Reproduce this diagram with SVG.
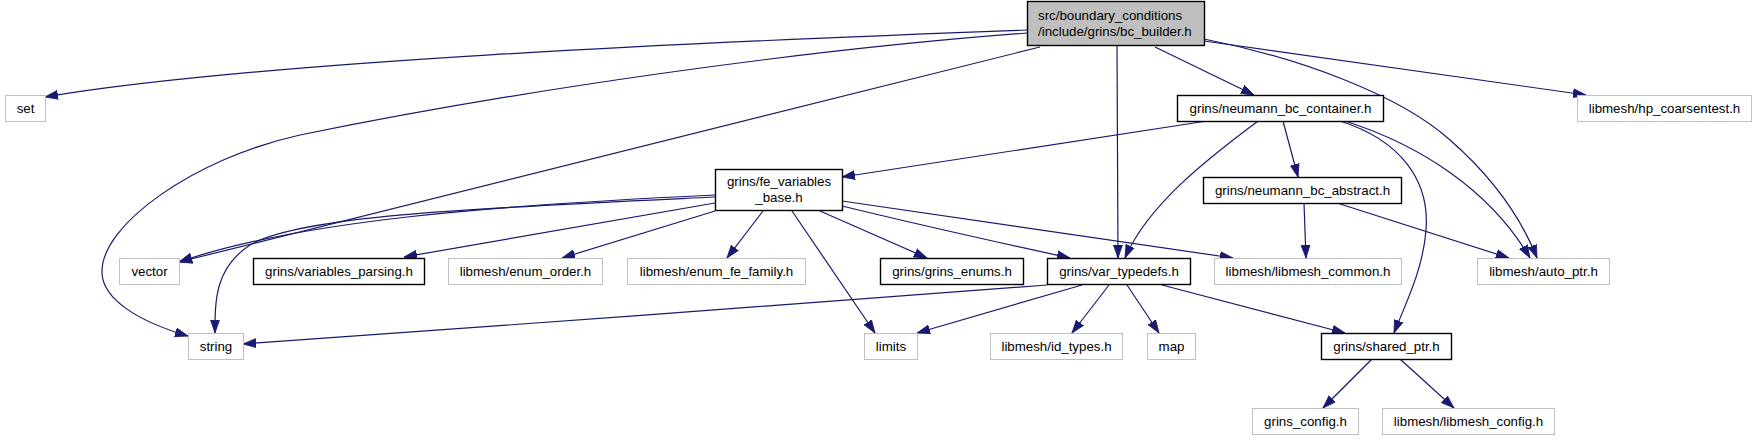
<svg xmlns="http://www.w3.org/2000/svg" width="1756" height="440" viewBox="0 0 1756 440">
<style>
.bg{fill:#ffffff}
.g rect{fill:#ffffff;stroke:#bfbfbf;stroke-width:1}
.d rect{fill:#ffffff;stroke:#000000;stroke-width:1.4}
.r rect{fill:#bfbfbf;stroke:#000000;stroke-width:1.4}
text{font-family:"Liberation Sans",Arial,Helvetica,sans-serif;font-size:13.3px;fill:#000000;text-anchor:middle}
.lt{text-anchor:start}
.e path{fill:none;stroke:#191970;stroke-width:1.2;marker-end:url(#ah)}
</style>
<defs>
<marker id="ah" markerUnits="userSpaceOnUse" markerWidth="14" markerHeight="10" viewBox="0 0 14 10" refX="13" refY="5" orient="auto">
<path d="M0,0.5 L13,5 L0,9.5 Z" fill="#191970" stroke="#191970" stroke-width="0.8"/>
</marker>
</defs>
<rect class="bg" x="0" y="0" width="1756" height="440"/>
<g id="edges" class="e">
<path d="M1027,30 C700,42 250,62 45,97"/>
<path d="M1027,33 C800,50 520,90 300,135 C195,158 100,225 102,273 C103,300 140,322 188,336"/>
<path d="M1040,47 L179,262"/>
<path d="M1117,46 L1118,258"/>
<path d="M1155,47 L1254,95"/>
<path d="M1204,39 C1300,58 1400,95 1450,140 C1490,175 1520,215 1537,258"/>
<path d="M1204,41 L1586,95"/>
<path d="M1207,121 L842,177"/>
<path d="M1258,121 C1220,150 1150,200 1125,258"/>
<path d="M1283,121 L1298,177"/>
<path d="M1340,121 C1400,140 1430,180 1426,230 C1423,270 1405,305 1394,333"/>
<path d="M1345,121 C1420,145 1490,190 1530,258"/>
<path d="M715,195 C500,205 300,220 179,262"/>
<path d="M715,197 C480,208 300,215 250,245 C215,268 215,300 215,333"/>
<path d="M715,203 L404,257"/>
<path d="M715,211 L562,258"/>
<path d="M763,211 L727,258"/>
<path d="M792,211 L875,333"/>
<path d="M820,211 L927,258"/>
<path d="M842,206 C920,225 1010,245 1070,258"/>
<path d="M842,201 L1233,258"/>
<path d="M1304,203 L1306,258"/>
<path d="M1337,203 L1509,258"/>
<path d="M1047,285 C850,300 450,330 243,344"/>
<path d="M1082,285 L917,333"/>
<path d="M1109,285 L1072,333"/>
<path d="M1127,285 L1159,333"/>
<path d="M1162,285 L1345,333"/>
<path d="M1372,359 L1323,408"/>
<path d="M1400,359 L1454,408"/>
</g>
<g id="root" class="r"><rect x="1027.5" y="1.5" width="177" height="44"/><text class="lt" x="1038" y="20">src/boundary_conditions</text><text class="lt" x="1038" y="36">/include/grins/bc_builder.h</text></g>
<g id="set" class="g"><rect x="5.5" y="95.5" width="40" height="26"/><text x="25.5" y="113">set</text></g>
<g id="neumann_bc_container" class="d"><rect x="1177.5" y="95.5" width="206" height="26"/><text x="1280.5" y="113">grins/neumann_bc_container.h</text></g>
<g id="hp_coarsentest" class="g"><rect x="1577.5" y="95.5" width="174" height="26"/><text x="1664.5" y="113">libmesh/hp_coarsentest.h</text></g>
<g id="fe_variables_base" class="d"><rect x="715.5" y="169.5" width="127" height="41"/><text x="779" y="186">grins/fe_variables</text><text x="779" y="202">_base.h</text></g>
<g id="neumann_bc_abstract" class="d"><rect x="1203.5" y="177.5" width="198" height="26"/><text x="1302.5" y="195">grins/neumann_bc_abstract.h</text></g>
<g id="vector" class="g"><rect x="119.5" y="258.5" width="60" height="26"/><text x="149.5" y="276">vector</text></g>
<g id="variables_parsing" class="d"><rect x="253.5" y="258.5" width="171" height="26"/><text x="339" y="276">grins/variables_parsing.h</text></g>
<g id="enum_order" class="g"><rect x="448.5" y="258.5" width="154" height="26"/><text x="525.5" y="276">libmesh/enum_order.h</text></g>
<g id="enum_fe_family" class="g"><rect x="627.5" y="258.5" width="178" height="26"/><text x="716.5" y="276">libmesh/enum_fe_family.h</text></g>
<g id="grins_enums" class="d"><rect x="880.5" y="258.5" width="143" height="26"/><text x="952" y="276">grins/grins_enums.h</text></g>
<g id="var_typedefs" class="d"><rect x="1047.5" y="258.5" width="143" height="26"/><text x="1119" y="276">grins/var_typedefs.h</text></g>
<g id="libmesh_common" class="g"><rect x="1214.5" y="258.5" width="187" height="26"/><text x="1308" y="276">libmesh/libmesh_common.h</text></g>
<g id="auto_ptr" class="g"><rect x="1477.5" y="258.5" width="132" height="26"/><text x="1543.5" y="276">libmesh/auto_ptr.h</text></g>
<g id="string" class="g"><rect x="188.5" y="333.5" width="55" height="26"/><text x="216" y="351">string</text></g>
<g id="limits" class="g"><rect x="864.5" y="333.5" width="53" height="26"/><text x="891" y="351">limits</text></g>
<g id="id_types" class="g"><rect x="990.5" y="333.5" width="132" height="26"/><text x="1056.5" y="351">libmesh/id_types.h</text></g>
<g id="map" class="g"><rect x="1147.5" y="333.5" width="48" height="26"/><text x="1171.5" y="351">map</text></g>
<g id="shared_ptr" class="d"><rect x="1321.5" y="333.5" width="130" height="26"/><text x="1386.5" y="351">grins/shared_ptr.h</text></g>
<g id="grins_config" class="g"><rect x="1252.5" y="408.5" width="106" height="26"/><text x="1305.5" y="426">grins_config.h</text></g>
<g id="libmesh_config" class="g"><rect x="1382.5" y="408.5" width="172" height="26"/><text x="1468.5" y="426">libmesh/libmesh_config.h</text></g>
</svg>
